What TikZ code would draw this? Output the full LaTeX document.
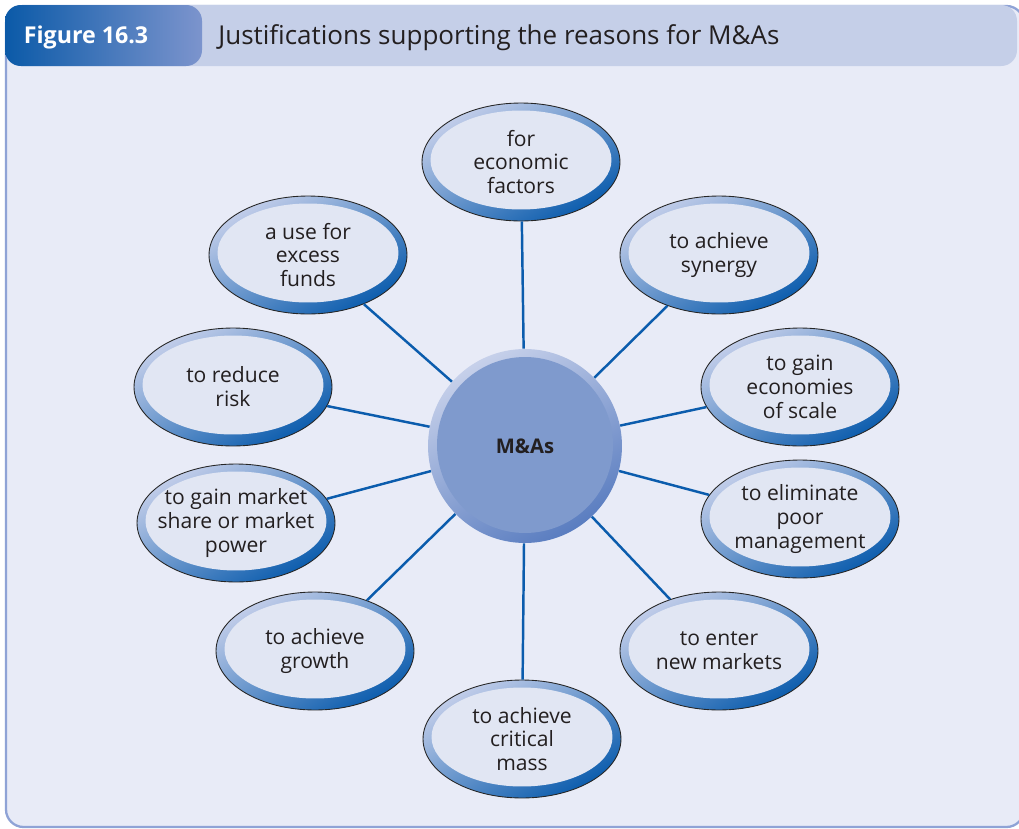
\documentclass[tikz,border=0pt]{standalone}
\usepackage{fontspec}
\setmainfont{Open Sans}
\usetikzlibrary{shapes.geometric}
\definecolor{mapanel}{HTML}{E8EBF7}
\definecolor{maband}{HTML}{C5CFE8}
\definecolor{maframe}{HTML}{8FA3D6}
\definecolor{matagdk}{HTML}{0B5AA8}
\definecolor{matagl}{HTML}{7C94CD}
\definecolor{maink}{HTML}{231F20}
\definecolor{malink}{HTML}{0B5CAD}
\definecolor{maringlt}{HTML}{C3CEEA}
\definecolor{maringdk}{HTML}{0B5CAD}
\definecolor{mafill}{HTML}{E1E6F3}
\definecolor{mahublt}{HTML}{C6D0EA}
\definecolor{mahubdk}{HTML}{5A7DC0}
\definecolor{mahub}{HTML}{7F9ACD}

\begin{document}
\begin{tikzpicture}[x=0.02cm,y=-0.02cm,
  ell/.style={ellipse,draw=black!85,line width=0.5pt,minimum width=3.96cm,minimum height=2.36cm,
    inner xsep=-0.8cm,inner ysep=-0.5cm,
    top color=maringlt,bottom color=maringdk,shading angle=30,align=center,text=maink,
    font=\fontsize{12}{13.6}\selectfont,
    path picture={\fill[mafill] ([yshift=0.04cm]path picture bounding box.center) ellipse (1.81cm and 0.99cm);}},
  hub/.style={circle,minimum size=3.88cm,inner sep=0pt,top color=mahublt,bottom color=mahubdk,shading angle=30,
    text=maink,font=\bfseries\fontsize{11.5}{13}\selectfont,
    path picture={\fill[mahub] ([yshift=0.02cm]path picture bounding box.center) circle (1.76cm);}},
  link/.style={malink,line width=1.4pt}]
  \useasboundingbox (0,0) rectangle (1019,829);
  \fill[white] (0,0) rectangle (1019,829);
  \filldraw[fill=mapanel,draw=maframe,line width=1.3pt,rounded corners=10pt] (6,6) rectangle (1024,827);
  \fill[maband,rounded corners=9pt] (5,5) rectangle (1017,66);
  \shade[left color=matagdk,right color=matagl,rounded corners=9pt] (5,5) rectangle (202,66);
  \node[font=\bfseries\fontsize{13.2}{15}\selectfont,text=white] (fig) at (86,37) {Figure 16.3};
  \node[anchor=west,font=\fontsize{14.8}{17}\selectfont,text=maink,inner sep=0pt] (title) at (218,38)
    {Justifications supporting the reasons for M\&As};
  \node[hub] (ma) at (525,446) {M\&As};
  \node[ell] (eco) at (521,162) {for\\economic\\factors};
  \node[ell] (syn) at (719,255) {to achieve\\synergy};
  \node[ell] (scale) at (800,387) {to gain\\economies\\of scale};
  \node[ell] (mgmt) at (800,519) {to eliminate\\poor\\management};
  \node[ell] (mkts) at (719,651) {to enter\\new markets};
  \node[ell] (mass) at (522,739) {to achieve\\critical\\mass};
  \node[ell] (grow) at (315,651) {to achieve\\growth};
  \node[ell] (share) at (236,523) {to gain market\\share or market\\power};
  \node[ell] (risk) at (233,387) {to reduce\\risk};
  \node[ell] (funds) at (308,255) {a use for\\excess\\funds};
  \foreach \n in {eco,syn,scale,mgmt,mkts,mass,grow,share,risk,funds}
    \draw[link] (ma) -- (\n);
\end{tikzpicture}
\end{document}
